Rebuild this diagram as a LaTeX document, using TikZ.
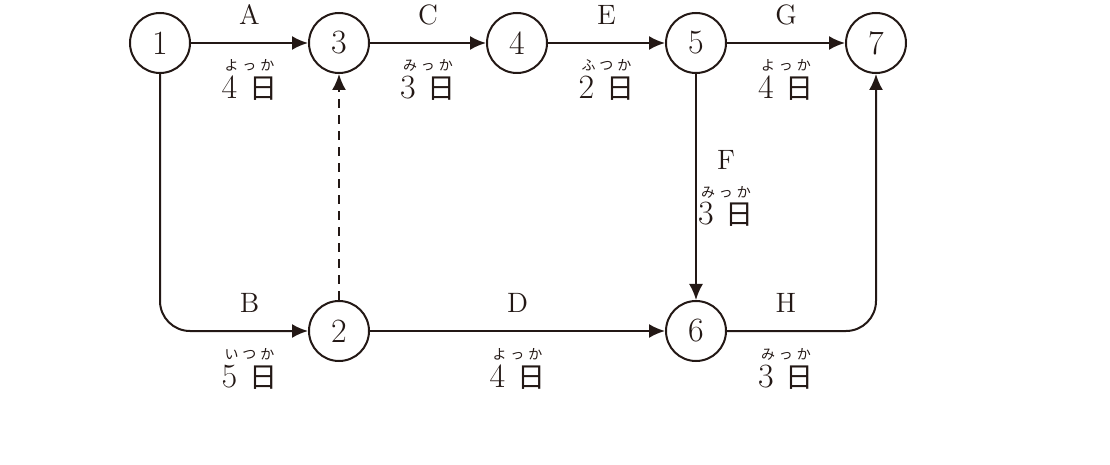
\documentclass[tikz,border=0pt]{standalone}
\usepackage{fontspec}
\newfontfamily\cjk{Noto Sans CJK JP}
\usetikzlibrary{arrows.meta,calc}
\definecolor{ink}{HTML}{231815}

% duration label: number + 日, and its reading
\newcommand{\hi}[1]{#1\hspace{6pt}{\fontsize{14}{14}\selectfont\cjk 日}}
\newcommand{\yomi}[3]{{\cjk #1\hspace{2pt}#2\hspace{2pt}#3}}

\tikzset{
  event/.style={circle,draw,line width=1pt,minimum size=30pt,inner sep=0pt,
    font=\fontsize{17}{17}\selectfont},
  task/.style={font=\fontsize{14}{14}\selectfont},
  ruby/.style={font=\fontsize{7}{7}\selectfont},
  days/.style={font=\fontsize{17}{17}\selectfont},
}

\begin{document}
\begin{tikzpicture}[x=0.5pt,y=-0.5pt,>={Latex[length=8pt,width=7pt]},line width=1pt,color=ink]
    \useasboundingbox (0,0) rectangle (1110,465);
    % events
    \node[event] (n1) at (160,43) {1};
    \node[event] (n3) at (339,43) {3};
    \node[event] (n4) at (517,43) {4};
    \node[event] (n5) at (696,43) {5};
    \node[event] (n7) at (876,43) {7};
    \node[event] (n2) at (339,331) {2};
    \node[event] (n6) at (696,331) {6};
    % top row
    \draw[->] (n1) -- (n3) node[midway,task,yshift=14pt] {A}
        node[midway,ruby,yshift=-11pt] {\yomi{よ}{っ}{か}}
        node[midway,days,yshift=-22.5pt] {\hi{4}};
    \draw[->] (n3) -- (n4) node[midway,task,yshift=14pt] {C}
        node[midway,ruby,yshift=-11pt] {\yomi{み}{っ}{か}}
        node[midway,days,yshift=-22.5pt] {\hi{3}};
    \draw[->] (n4) -- (n5) node[midway,task,yshift=14pt] {E}
        node[midway,ruby,yshift=-11pt] {\yomi{ふ}{つ}{か}}
        node[midway,days,yshift=-22.5pt] {\hi{2}};
    \draw[->] (n5) -- (n7) node[midway,task,yshift=14pt] {G}
        node[midway,ruby,yshift=-11pt] {\yomi{よ}{っ}{か}}
        node[midway,days,yshift=-22.5pt] {\hi{4}};
    % vertical ones
    \draw[->,dash pattern=on 4.5pt off 3.5pt] (n2) -- (n3);
    \draw[->] (n5) -- (n6) node[midway,task,xshift=15pt,yshift=13.5pt] {F}
        node[midway,ruby,xshift=15pt,yshift=-2.5pt] {\yomi{み}{っ}{か}}
        node[midway,days,xshift=15pt,yshift=-13.5pt] {\hi{3}};
    % bottom row
    \draw[->,rounded corners=15pt] (n1) |- (n2);
    \coordinate (b) at ($(n1|-n2)!.5!(n2)$);
    \node[task,yshift=14pt] at (b) {B};
    \node[ruby,yshift=-11.5pt] at (b) {\yomi{い}{つ}{か}};
    \node[days,yshift=-23pt] at (b) {\hi{5}};
    \draw[->] (n2) -- (n6) node[midway,task,yshift=14pt] {D}
        node[midway,ruby,yshift=-11.5pt] {\yomi{よ}{っ}{か}}
        node[midway,days,yshift=-23pt] {\hi{4}};
    \draw[->,rounded corners=15pt] (n6) -| (n7);
    \coordinate (h) at ($(n6)!.5!(n6-|n7)$);
    \node[task,yshift=14pt] at (h) {H};
    \node[ruby,yshift=-11.5pt] at (h) {\yomi{み}{っ}{か}};
    \node[days,yshift=-23pt] at (h) {\hi{3}};
\end{tikzpicture}
\end{document}
